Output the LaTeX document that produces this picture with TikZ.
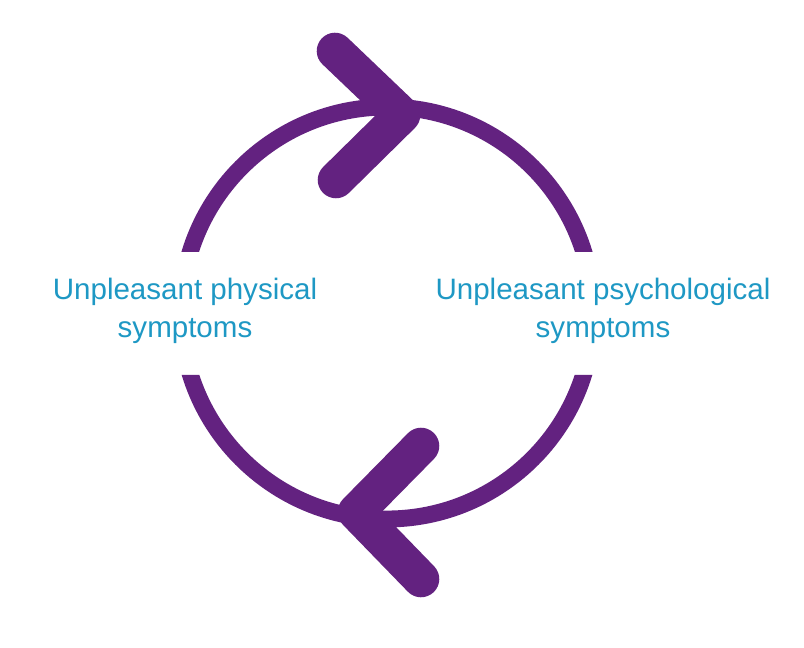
\documentclass[tikz,border=0pt]{standalone}
\usepackage{fontspec}
\setmainfont{Liberation Sans}
\usetikzlibrary{positioning,calc}
\definecolor{cyclepurple}{RGB}{99,34,128}
\definecolor{labelblue}{RGB}{30,152,196}

\begin{document}
\begin{tikzpicture}[
  x=0.025cm, y=-0.025cm,
  symptom/.style={align=center, text=labelblue, inner sep=0pt, font=\fontsize{21}{27}\selectfont},
  ring/.style={draw=cyclepurple, line width=12pt},
  chevron/.style={draw=cyclepurple, line width=26pt, line cap=round, line join=round}
]
\useasboundingbox (0,0) rectangle (804,648);
\coordinate (centre) at (387,313);

\node[symptom] (physical) at (185,311) {Unpleasant physical\\symptoms};
\node[symptom] (psychological) at (603,311) {Unpleasant psychological\\symptoms};

% ring, cut open where the labels sit
\begin{scope}
  \clip (0,0) rectangle (804,252) (0,375) rectangle (804,648);
  \draw[ring] (centre) circle[radius=206];
\end{scope}

% arrow heads
\draw[chevron] (335,51) -- (402,115) -- (336,180);
\draw[chevron] (421,446) -- (356,512) -- (421,579);
\end{tikzpicture}
\end{document}
